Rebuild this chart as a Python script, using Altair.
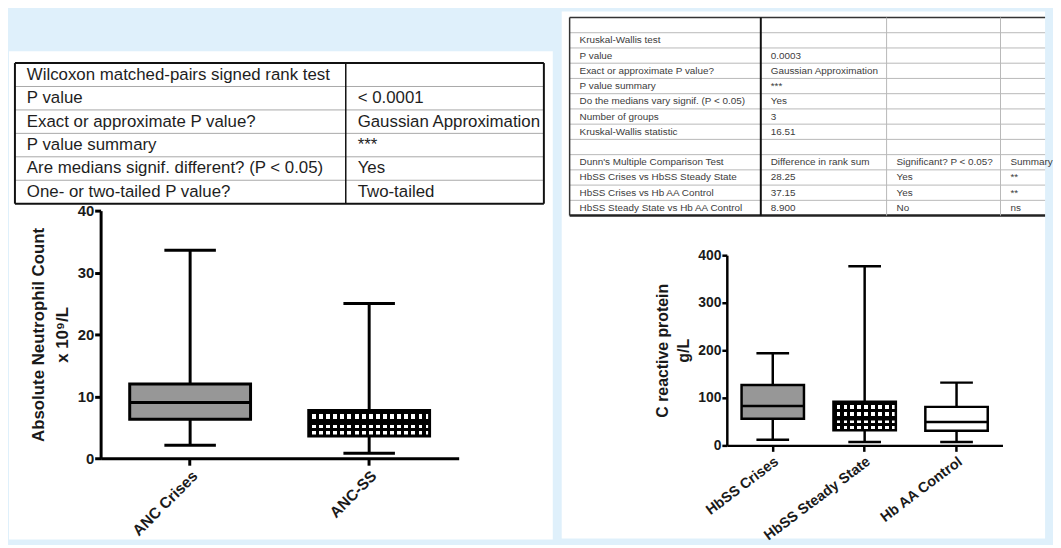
import altair as alt
import pandas as pd

BG = "#dff0fb"
FONT = "Liberation Sans"

# ---------------- data ----------------
wil_labels = ["Wilcoxon matched-pairs signed rank test", "P value",
              "Exact or approximate P value?", "P value summary",
              "Are medians signif. different? (P < 0.05)", "One- or two-tailed P value?"]
wil_values = ["", "< 0.0001", "Gaussian Approximation", "***", "Yes", "Two-tailed"]

kw_col1 = ["", "Kruskal-Wallis test", "P value", "Exact or approximate P value?",
           "P value summary", "Do the medians vary signif. (P < 0.05)", "Number of groups",
           "Kruskal-Wallis statistic", "", "Dunn's Multiple Comparison Test",
           "HbSS Crises  vs HbSS Steady State", "HbSS Crises  vs Hb AA Control",
           "HbSS Steady State vs Hb AA Control"]
kw_col2 = ["", "", "0.0003", "Gaussian Approximation", "***", "Yes", "3", "16.51", "",
           "Difference in rank sum", "28.25", "37.15", "8.900"]
kw_col3 = ["", "", "", "", "", "", "", "", "", "Significant? P < 0.05?", "Yes", "Yes", "No"]
kw_col4 = ["", "", "", "", "", "", "", "", "", "Summary", "**", "**", "ns"]

anc_groups = ["ANC Crises", "ANC-SS"]
anc_min = [2.1, 0.8]
anc_q1 = [6.3, 3.6]
anc_med = [9.0, 5.6]
anc_q3 = [12.0, 7.7]
anc_max = [33.6, 25.0]
anc_ticks = [0, 10, 20, 30, 40]

crp_groups = ["HbSS Crises", "HbSS Steady State", "Hb AA Control"]
crp_min = [12, 7, 7]
crp_q1 = [56, 32, 31]
crp_med = [83, 55, 49]
crp_q3 = [127, 92, 81]
crp_max = [194, 377, 132]
crp_ticks = [0, 100, 200, 300, 400]


# ---------------- helpers ----------------
def table_layers(columns, edges, y_range, font_size, text_color, dx,
                 h_styles, v_styles):
    nrows = len(columns[0])
    ncols = len(columns)
    sx = alt.Scale(domain=list(range(ncols + 1)), range=edges, nice=False, zero=False)
    sy = alt.Scale(domain=[0, nrows], range=y_range, nice=False, zero=False)
    recs = []
    for c, col in enumerate(columns):
        for r, t in enumerate(col):
            recs.append({"r": r, "c": c, "t": t})
    txt = alt.Chart(pd.DataFrame(recs)).transform_calculate(
        yc="datum.r + 0.5").mark_text(
        align="left", baseline="middle", dx=dx, fontSize=font_size,
        color=text_color, font=FONT).encode(
        x=alt.X("c:Q", scale=sx, axis=None),
        y=alt.Y("yc:Q", scale=sy, axis=None),
        text="t:N")
    layers = []
    for rows, color, w in h_styles:
        d = pd.DataFrame({"r": rows, "a": [0] * len(rows), "b": [ncols] * len(rows)})
        layers.append(alt.Chart(d).mark_rule(color=color, strokeWidth=w).encode(
            x=alt.X("a:Q", scale=sx, axis=None), x2="b:Q",
            y=alt.Y("r:Q", scale=sy, axis=None)))
    for cols, color, w in v_styles:
        d = pd.DataFrame({"c": cols, "a": [0] * len(cols), "b": [nrows] * len(cols)})
        layers.append(alt.Chart(d).mark_rule(color=color, strokeWidth=w).encode(
            x=alt.X("c:Q", scale=sx, axis=None),
            y=alt.Y("a:Q", scale=sy, axis=None), y2="b:Q"))
    layers.append(txt)
    return layers


def stripes(n, frac, along_x):
    stops = []
    for i in range(n):
        a = i / n
        b = (i + frac) / n
        c = (i + 1) / n
        stops += [alt.GradientStop(offset=a, color="black"),
                  alt.GradientStop(offset=b, color="black"),
                  alt.GradientStop(offset=b, color="rgba(0,0,0,0)"),
                  alt.GradientStop(offset=c, color="rgba(0,0,0,0)")]
    if along_x:
        return alt.LinearGradient(gradient="linear", stops=stops, x1=0, x2=1, y1=0, y2=0)
    return alt.LinearGradient(gradient="linear", stops=stops, x1=0, x2=0, y1=0, y2=1)


def box_layers(groups, mins, q1s, meds, q3s, maxs, x_range, y_range, y_domain, y_ticks,
               box_w, cap_w, sw, fills, pattern, title, title_size, title_lh, label_size,
               x_label_size, x_angle, y_offset, x_offset, tick_size, title_pad):
    df = pd.DataFrame({"g": groups, "mn": mins, "q1": q1s, "md": meds, "q3": q3s, "mx": maxs})
    sx = alt.Scale(domain=groups, range=x_range, paddingInner=0, paddingOuter=0)
    sy = alt.Scale(domain=y_domain, range=y_range, nice=False, zero=False)
    base = alt.Chart(df)
    whisk = base.mark_rule(color="black", strokeWidth=sw).encode(
        x=alt.X("g:N", scale=sx, sort=groups, title=None,
                axis=alt.Axis(orient="bottom", offset=x_offset, labelAngle=x_angle,
                              labelAlign="right", labelBaseline="top",
                              labelFontSize=x_label_size, labelFontWeight="bold",
                              labelColor="#1a1a1a", labelFont=FONT, labelPadding=3,
                              domainColor="black", domainWidth=sw, tickColor="black",
                              tickWidth=sw, tickSize=tick_size + 1)),
        y=alt.Y("mn:Q", scale=sy, title=title,
                axis=alt.Axis(orient="left", offset=y_offset, values=y_ticks,
                              grid=False, labelFontSize=label_size, labelFontWeight="bold",
                              labelColor="#1a1a1a", labelFont=FONT, labelPadding=1,
                              domainColor="black", domainWidth=sw, tickColor="black",
                              tickWidth=sw, tickSize=tick_size,
                              titleFontSize=title_size, titleFontWeight="bold",
                              titleColor="#1a1a1a", titleFont=FONT,
                              titleLineHeight=title_lh, titlePadding=title_pad)),
        y2="mx:Q")
    xx = alt.X("g:N", scale=sx, sort=groups, axis=None)
    fill = base.mark_bar(size=box_w, strokeWidth=0).encode(
        x=xx, y=alt.Y("q1:Q", scale=sy, axis=None), y2="q3:Q",
        color=alt.Color("g:N", scale=alt.Scale(domain=groups, range=fills), legend=None))
    layers = [whisk, fill]
    for g, ncols, nrows, frac in pattern:
        sub = base.transform_filter(alt.datum.g == g)
        for grad in (stripes(ncols, frac, True), stripes(nrows, frac, False)):
            layers.append(sub.mark_bar(size=box_w, strokeWidth=0, fill=grad).encode(
                x=xx, y=alt.Y("q1:Q", scale=sy, axis=None), y2="q3:Q"))
    outline = base.mark_bar(size=box_w, fillOpacity=0, stroke="black", strokeWidth=sw).encode(
        x=xx, y=alt.Y("q1:Q", scale=sy, axis=None), y2="q3:Q")
    med = base.mark_tick(size=box_w, thickness=sw, color="black", opacity=1).encode(
        x=xx, y=alt.Y("md:Q", scale=sy, axis=None))
    cap_lo = base.mark_tick(size=cap_w, thickness=sw, color="black", opacity=1).encode(
        x=xx, y=alt.Y("mn:Q", scale=sy, axis=None))
    cap_hi = base.mark_tick(size=cap_w, thickness=sw, color="black", opacity=1).encode(
        x=xx, y=alt.Y("mx:Q", scale=sy, axis=None))
    return layers + [outline, med, cap_lo, cap_hi]


# ---------------- left panel ----------------
LW, LH = 549, 493
left_layers = table_layers(
    [wil_labels, wil_values], edges=[6, 340, 540], y_range=[12, 154],
    font_size=17, text_color="#1e1e1e", dx=12,
    h_styles=[([1, 2, 3, 4, 5], "#a8a8a8", 1), ([0, 6], "#111111", 2)],
    v_styles=[([0, 2], "#111111", 2), ([1], "#111111", 1.5)])
left_layers += box_layers(
    anc_groups, anc_min, anc_q1, anc_med, anc_q3, anc_max,
    x_range=[92.5, 454], y_range=[411, 161], y_domain=[0, 40], y_ticks=anc_ticks,
    box_w=122, cap_w=52, sw=3, fills=["#979797", "white"],
    pattern=[("ANC-SS", 17, 3, 0.45)],
    title=["Absolute Neutrophil Count", "x 10⁹/L"], title_size=17, title_lh=24,
    label_size=15, x_label_size=15.5, x_angle=-45,
    y_offset=-92.5, x_offset=-(LH - 411), tick_size=6, title_pad=6)
left_panel = alt.layer(*left_layers).resolve_scale(
    x="independent", y="independent").properties(
    width=LW, height=LH, view=alt.ViewBackground(fill="white", stroke="transparent"))

spacer = alt.Chart(pd.DataFrame({"s": [0]})).mark_point(opacity=0).properties(
    width=LW, height=39, view=alt.ViewBackground(fill="transparent", stroke="transparent"))
left_col = alt.vconcat(spacer, left_panel, spacing=0)

# ---------------- right panel ----------------
RW, RH = 488, 532
right_layers = table_layers(
    [kw_col1, kw_col2, kw_col3, kw_col4], edges=[8, 201, 328, 443, 488], y_range=[6, 206],
    font_size=10, text_color="#3c3c3c", dx=10,
    h_styles=[(list(range(1, 13)), "#b8b8b8", 1), ([0], "#333333", 1.5), ([13], "#222222", 2.5)],
    v_styles=[([0], "#333333", 1.5), ([2, 3], "#b8b8b8", 1), ([1], "#111111", 2)])
right_layers += box_layers(
    crp_groups, crp_min, crp_q1, crp_med, crp_q3, crp_max,
    x_range=[166.7, 445], y_range=[438, 246], y_domain=[0, 400], y_ticks=crp_ticks,
    box_w=63, cap_w=33, sw=2.5, fills=["#979797", "white", "white"],
    pattern=[("HbSS Steady State", 9, 4, 0.45)],
    title=["C reactive protein", "g/L"], title_size=16, title_lh=22,
    label_size=14, x_label_size=14.5, x_angle=-37,
    y_offset=-166.7, x_offset=-(RH - 438), tick_size=5, title_pad=6)
right_panel = alt.layer(*right_layers).resolve_scale(
    x="independent", y="independent").properties(
    width=RW, height=RH, view=alt.ViewBackground(fill="white", stroke="transparent"))

chart = alt.hconcat(left_col, right_panel, spacing=8).resolve_scale(
    color="independent").properties(
    padding=0, background=BG).configure_view(strokeWidth=0)

chart.save("out.html", embed_options={"renderer": "svg", "actions": False})
